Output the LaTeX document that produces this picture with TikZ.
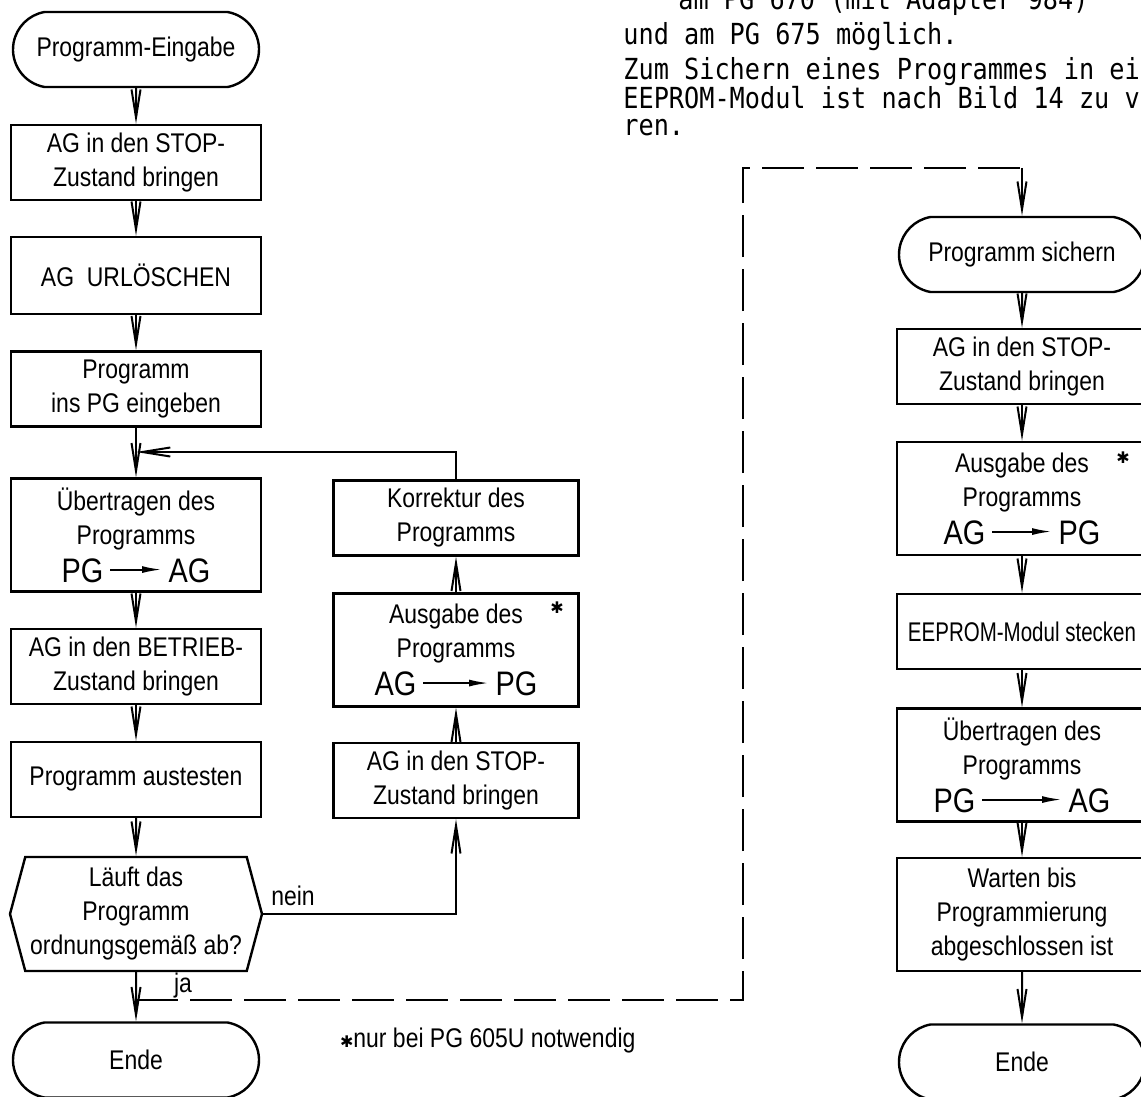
\documentclass[tikz,border=0pt]{standalone}
\usepackage{fontspec}
\setmainfont{Liberation Sans}[FakeStretch=0.85]
\newfontfamily\schmal{Liberation Sans}[FakeStretch=0.76]
\newfontfamily\schreibm{DejaVu Sans Mono}[FakeStretch=0.87]
\newfontfamily\symb{DejaVu Sans}
\usepackage{tikz}
\usetikzlibrary{arrows.meta,shapes.misc,shapes.symbols}

\newcommand{\pfeil}[1]{\tikz[baseline=-0.7ex]\draw[line width=1pt,-{Latex[length=10pt,width=3.5pt]}] (0pt,0pt)--(#1,0pt);}
\newcommand{\stern}{{\symb\fontsize{8}{8}\selectfont ✱}}
\newcommand{\gross}{\fontsize{17}{19}\selectfont}

\begin{document}
\begin{tikzpicture}[x=0.5pt,y=-0.5pt,
	every node/.style={font=\fontsize{13.5}{17}\selectfont},
	kasten/.style={draw,line width=1.2pt,minimum width=125pt,minimum height=37.5pt,align=center,inner sep=1pt},
	hoch/.style={kasten,minimum height=56.5pt},
	mitte/.style={minimum width=122.5pt},
	rechts/.style={minimum width=125pt},
	grenze/.style={kasten,rounded rectangle,rounded rectangle arc length=160},
	sechseck/.style={kasten,signal,signal to=west and east,signal pointer angle=150,minimum width=126pt,minimum height=57pt},
	pfeil/.style={line width=1pt,-{Straight Barb[length=14pt,width=4.5pt]}},
	gestr/.style={line width=1pt,dash pattern=on 21pt off 6pt},
	zeile/.style={anchor=base west,inner sep=0pt,font=\schreibm\fontsize{14.5}{16}\selectfont}]
	\useasboundingbox (0,0) rectangle (1141,1097);
	\clip (0,0) rectangle (1141,1097);
	% Text oben rechts
	\node[zeile] (zeileA) at (678,10) {am PG 670 (mit Adapter 984)};
	\node[zeile] (zeileB) at (623,45) {und am PG 675 möglich.};
	\node[zeile] (zeileC) at (623,80) {Zum Sichern eines Programmes in einen};
	\node[zeile] (zeileD) at (623,109) {EEPROM-Modul ist nach Bild 14 zu verfah-};
	\node[zeile] (zeileE) at (623,136) {ren.};
	% linke Spalte
	\node[grenze] (anfang) at (136,49.5) {Programm-Eingabe};
	\node[kasten] (stopA) at (136,162.5) {AG in den STOP-\\Zustand bringen};
	\node[kasten,minimum height=38.5pt] (urloeschen) at (136,275.5) {AG\ \ URLÖSCHEN};
	\node[kasten] (eingeben) at (136,389) {Programm\\ins PG eingeben};
	\node[hoch] (uebertragenA) at (136,535) {Übertragen des\\Programms\\[2pt]{\gross PG\,\pfeil{26pt}\,AG}};
	\node[kasten] (betrieb) at (136,666.5) {AG in den BETRIEB-\\Zustand bringen};
	\node[kasten] (austesten) at (136,779.5) {Programm austesten};
	\node[sechseck] (frage) at (136,914) {Läuft das\\Programm\\ordnungsgemäß ab?};
	\node[grenze] (endeA) at (136,1060) {Ende};
	% mittlere Spalte
	\node[kasten,mitte] (korrektur) at (456,518) {Korrektur des\\Programms};
	\node[hoch,mitte] (ausgabeA) at (456,650) {Ausgabe des\\Programms\\[2pt]{\gross AG\,\pfeil{33pt}\,PG}};
	\node[kasten,mitte] (stopB) at (456,780.5) {AG in den STOP-\\Zustand bringen};
	\node (sternA) at (557,608) {\stern};
	% rechte Spalte
	\node[grenze,rechts] (sichern) at (1022,254.5) {Programm sichern};
	\node[kasten,rechts] (stopC) at (1022,366.5) {AG in den STOP-\\Zustand bringen};
	\node[hoch,rechts] (ausgabeB) at (1022,498.5) {Ausgabe des\\Programms\\[2pt]{\gross AG\,\pfeil{30pt}\,PG}};
	\node (sternB) at (1123,458) {\stern};
	\node[kasten,rechts,font=\schmal\fontsize{13.5}{17}\selectfont] (eeprom) at (1022,631.5) {EEPROM-Modul stecken};
	\node[hoch,rechts] (uebertragenB) at (1022,765) {Übertragen des\\Programms\\[2pt]{\gross PG\,\pfeil{40pt}\,AG}};
	\node[hoch,rechts] (warten) at (1022,914.5) {Warten bis\\Programmierung\\abgeschlossen ist};
	\node[grenze,rechts] (endeB) at (1022,1062) {Ende};
	% Verbindungen
	\foreach \a/\b in {anfang/stopA,stopA/urloeschen,urloeschen/eingeben,eingeben/uebertragenA,
		uebertragenA/betrieb,betrieb/austesten,austesten/frage,frage/endeA,
		stopB/ausgabeA,ausgabeA/korrektur,
		sichern/stopC,stopC/ausgabeB,ausgabeB/eeprom,eeprom/uebertragenB,uebertragenB/warten,warten/endeB}
	\draw[pfeil] (\a) -- (\b);
	\coordinate (knoten) at (136,452);
	\coordinate (ja) at (136,1000);
	\coordinate (umweg) at (743,168);
	\coordinate (ecke) at (1022,168);
	\draw[pfeil] (korrektur.north) |- (knoten);
	\draw[pfeil] (frage.east) -| (stopB.south);
	\draw[gestr] (ja) -| (umweg) -- (ecke);
	\draw[pfeil] (ecke) -- (sichern.north);
	\node (nein) at (293,896) {nein};
	\node (jaText) at (183,986) {ja};
	\node[anchor=base west] (fussnote) at (333,1047) {\stern nur bei PG 605U notwendig};
\end{tikzpicture}
\end{document}
